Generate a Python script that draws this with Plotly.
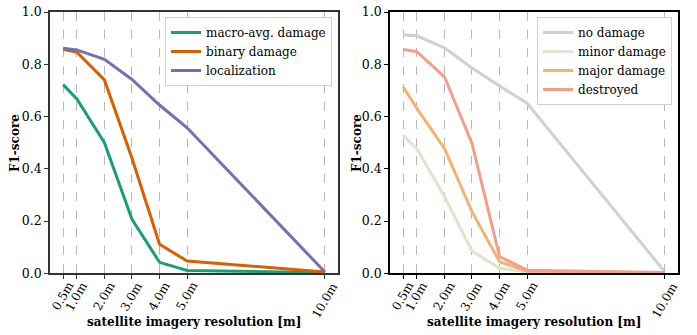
import plotly.graph_objects as go

resolutions = [0.5, 1.0, 2.0, 3.0, 4.0, 5.0, 10.0]
tick_labels = ["0.5m", "1.0m", "2.0m", "3.0m", "4.0m", "5.0m", "10.0m"]

macro_avg_damage = [0.722, 0.667, 0.500, 0.207, 0.042, 0.011, 0.002]
binary_damage = [0.857, 0.846, 0.740, 0.440, 0.111, 0.047, 0.005]
localization = [0.861, 0.855, 0.819, 0.742, 0.644, 0.557, 0.005]

no_damage = [0.912, 0.909, 0.863, 0.786, 0.717, 0.651, 0.005]
minor_damage = [0.529, 0.476, 0.295, 0.085, 0.019, 0.005, 0.001]
major_damage = [0.714, 0.631, 0.478, 0.236, 0.044, 0.008, 0.002]
destroyed = [0.857, 0.848, 0.752, 0.497, 0.064, 0.012, 0.003]

FONT = "DejaVu Serif"
fig = go.Figure()

left = [("macro-avg. damage", macro_avg_damage, "#1b9e77"),
        ("binary damage", binary_damage, "#d95f02"),
        ("localization", localization, "#7570b3")]
right = [("no damage", no_damage, "#d0d0d4"),
         ("minor damage", minor_damage, "#d6e8cf"),
         ("major damage", major_damage, "#f5b36d"),
         ("destroyed", destroyed, "#f0a08a")]

for name, vals, col in left:
    fig.add_trace(go.Scatter(x=resolutions, y=vals, mode="lines", name=name,
                             line=dict(color=col, width=3), xaxis="x", yaxis="y",
                             legend="legend"))
for name, vals, col in right:
    fig.add_trace(go.Scatter(x=resolutions, y=vals, mode="lines", name=name,
                             line=dict(color=col, width=3), xaxis="x2", yaxis="y2",
                             legend="legend2"))

W, H = 697, 335
ydom = [1 - 273.3 / H, 1 - 12 / H]

def xaxis(dom, anchor, spine):
    return dict(domain=dom, anchor=anchor, range=[0.025, 10.475], automargin=False,
                tickmode="array", tickvals=resolutions, ticktext=[""] * len(resolutions),
                showgrid=True, gridcolor="#b8b8b8", griddash="dash",
                gridwidth=1, zeroline=False, showline=True, linecolor=spine,
                linewidth=1.5, mirror=True, ticks="outside", ticklen=4,
                tickcolor=spine)

def yaxis(anchor, spine):
    return dict(domain=ydom, anchor=anchor, range=[0, 1], automargin=False,
                tickmode="array", tickvals=[0, 0.2, 0.4, 0.6, 0.8, 1.0], tickformat=".1f",
                showgrid=False, zeroline=False, showline=True, linecolor=spine,
                linewidth=1.5, mirror=True, ticks="outside", ticklen=4,
                tickcolor=spine, tickfont=dict(family=FONT, size=12.5, color="black"))

legend_common = dict(bgcolor="white", bordercolor="#d0d0d0", borderwidth=1,
                     font=dict(family=FONT, size=12, color="black"),
                     xanchor="right", yanchor="top", xref="paper", yref="paper")

title_font = dict(family=FONT, size=12, color="black")
annotations = []
for xr, cx, fx in [("x", 194, 15), ("x2", 534, 357)]:
    annotations.append(dict(text="<b>satellite imagery resolution [m]</b>", x=cx / W,
                            y=1 - 322 / H, xref="paper", yref="paper", showarrow=False,
                            xanchor="center", yanchor="middle", font=title_font))
    annotations.append(dict(text="<b>F1-score</b>", x=fx / W, y=1 - 143 / H,
                            xref="paper", yref="paper", showarrow=False, textangle=-90,
                            xanchor="center", yanchor="middle", font=title_font))
    for v, lab in zip(resolutions, tick_labels):
        annotations.append(dict(text=lab, x=v, xref=xr, y=1 - 278 / H, yref="paper",
                                showarrow=False, textangle=-60, xanchor="center",
                                yanchor="top", borderpad=0,
                                font=dict(family=FONT, size=12, color="black")))

fig.update_layout(
    width=W, height=H, margin=dict(l=0, r=0, t=0, b=0),
    plot_bgcolor="white", paper_bgcolor="white",
    xaxis=xaxis([50 / W, 338 / W], "y", "#333333"),
    yaxis=yaxis("x", "#333333"),
    xaxis2=xaxis([390 / W, 678 / W], "y2", "black"),
    yaxis2=yaxis("x2", "black"),
    legend=dict(x=332 / W, y=1 - 17 / H, **legend_common),
    legend2=dict(x=672 / W, y=1 - 17 / H, **legend_common),
    annotations=annotations,
)

fig.write_html("out.html", config={"displayModeBar": False},
               post_script="document.body.style.margin='0px';")
